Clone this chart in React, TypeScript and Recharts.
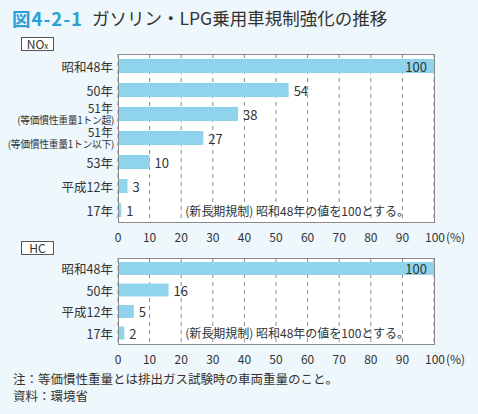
import React from "react";
import { BarChart, Bar, XAxis, YAxis, CartesianGrid, LabelList } from "recharts";

const noxCategories = [
  "昭和48年",
  "50年",
  "51年\n(等価慣性重量1トン超)",
  "51年\n(等価慣性重量1トン以下)",
  "53年",
  "平成12年",
  "17年",
];
const noxValues = [100, 54, 38, 27, 10, 3, 1];

const hcCategories = ["昭和48年", "50年", "平成12年", "17年"];
const hcValues = [100, 16, 5, 2];

const xTicks = [0, 10, 20, 30, 40, 50, 60, 70, 80, 90, 100];

const noxData = noxCategories.map((name, i) => ({ name, value: noxValues[i] }));
const hcData = hcCategories.map((name, i) => ({ name, value: hcValues[i] }));

const FONT = "'Noto Sans CJK JP', 'Noto Sans', sans-serif";
const TEXT = "#333333";
const BAR = "#8fd3ec";
const BG = "#eef7fb";

const XTick = (props: any) => {
  const { x, y, payload } = props;
  if (payload.value === 100) {
    return (
      <text x={x - 9} y={y + 18} textAnchor="start" fontSize={12} fill={TEXT} fontFamily={FONT}>
        100
        <tspan dx={1}>(%)</tspan>
      </text>
    );
  }
  return (
    <text x={x} y={y + 18} textAnchor="middle" fontSize={12} fill={TEXT} fontFamily={FONT}>
      {payload.value}
    </text>
  );
};

const YTick = (props: any) => {
  const { y, payload } = props;
  const x = 113;
  const lines = String(payload.value).split("\n");
  if (lines.length === 1) {
    return (
      <text x={x} y={y} textAnchor="end" dominantBaseline="central" fontSize={12.5} fill={TEXT} fontFamily={FONT}>
        {lines[0]}
      </text>
    );
  }
  return (
    <text textAnchor="end" fill={TEXT} fontFamily={FONT}>
      <tspan x={x} y={y - 1.5} fontSize={12}>
        {lines[0]}
      </tspan>
      <tspan x={x + 1} y={y + 10} fontSize={9.8} letterSpacing={-0.3}>
        {lines[1]}
      </tspan>
    </text>
  );
};

const ValueLabel = (props: any) => {
  const vb = props.viewBox || {};
  const x = props.x ?? vb.x;
  const y = props.y ?? vb.y;
  const width = props.width ?? vb.width;
  const height = props.height ?? vb.height;
  const value = props.value;
  const inside = value >= 100;
  return (
    <text
      x={inside ? x + width - 7 : x + width + 5}
      y={y + height / 2}
      textAnchor={inside ? "end" : "start"}
      dominantBaseline="central"
      fontSize={13}
      fill={TEXT}
      fontFamily={FONT}
    >
      {value}
    </text>
  );
};

type PanelProps = {
  data: { name: string; value: number }[];
  top: number;
  height: number;
  barSize: number;
  boxLabel: React.ReactNode;
  noteCenterY: number;
};

const PLOT_LEFT = 118;
const PLOT_RIGHT = 434;

const Panel = ({ data, top, height, barSize, boxLabel, noteCenterY }: PanelProps) => {
  const mTop = 28;
  const xAxisH = 28;
  const plotTop = top + mTop;
  const plotH = height - mTop - xAxisH;
  return (
    <>
      <div
        style={{
          position: "absolute",
          left: 21,
          top: top + 11,
          width: 33,
          height: 14,
          boxSizing: "border-box",
          border: "1px solid #555",
          background: "#fff",
          fontSize: 12,
          lineHeight: "12px",
          textAlign: "center",
          color: TEXT,
        }}
      >
        {boxLabel}
      </div>
      <div
        style={{
          position: "absolute",
          left: PLOT_LEFT,
          top: plotTop,
          width: PLOT_RIGHT - PLOT_LEFT,
          height: plotH,
          background: "#fff",
        }}
      />
      <div style={{ position: "absolute", left: 0, top }}>
        <BarChart
          width={478}
          height={height}
          data={data}
          layout="vertical"
          margin={{ top: mTop, right: 478 - PLOT_RIGHT, bottom: 0, left: 0 }}
          barCategoryGap={0}
        >
          <CartesianGrid horizontal={false} stroke="#8c8c8c" strokeDasharray="4 4" />
          <XAxis
            type="number"
            domain={[0, 100]}
            ticks={xTicks}
            interval={0}
            axisLine={false}
            tickLine={false}
            tickSize={0}
            height={xAxisH}
            tick={<XTick />}
          />
          <YAxis
            type="category"
            dataKey="name"
            width={PLOT_LEFT}
            axisLine={false}
            tickLine={false}
            tickSize={0}
            interval={0}
            tick={<YTick />}
          />
          <Bar dataKey="value" fill={BAR} barSize={barSize} isAnimationActive={false}>
            <LabelList dataKey="value" content={<ValueLabel />} />
          </Bar>
        </BarChart>
      </div>
      <div
        style={{
          position: "absolute",
          left: PLOT_LEFT,
          top: plotTop,
          width: PLOT_RIGHT - PLOT_LEFT + 1,
          height: plotH + 1,
          boxSizing: "border-box",
          border: "1px solid #8a8a8a",
          pointerEvents: "none",
        }}
      />
      <div
        style={{
          position: "absolute",
          left: 0,
          width: 409,
          top: noteCenterY - 8,
          height: 16,
          lineHeight: "16px",
          fontSize: 12,
          textAlign: "right",
          color: TEXT,
          whiteSpace: "nowrap",
        }}
      >
        (新長期規制)&nbsp;昭和48年の値を100とする。
      </div>
    </>
  );
};

export default function App() {
  return (
    <div
      style={{
        position: "absolute",
        left: 0,
        top: 0,
        width: 478,
        height: 414,
        background: BG,
        fontFamily: FONT,
        overflow: "hidden",
      }}
    >
      <div
        style={{
          position: "absolute",
          left: 12,
          top: 6,
          fontSize: 17.5,
          lineHeight: "24px",
          whiteSpace: "nowrap",
          color: TEXT,
        }}
      >
        <span style={{ color: "#2a9fd8", fontWeight: 700, fontSize: 18.5, letterSpacing: 1 }}>図4-2-1</span>
        <span style={{ position: "absolute", left: 80, top: 0 }}>ガソリン・LPG乗用車規制強化の推移</span>
      </div>

      <Panel
        data={noxData}
        top={26}
        height={224}
        barSize={14}
        boxLabel={
          <span>
            NO<span style={{ fontSize: 8 }}>x</span>
          </span>
        }
        noteCenterY={211}
      />
      <Panel data={hcData} top={230} height={142} barSize={13} boxLabel="HC" noteCenterY={333} />

      <div
        style={{
          position: "absolute",
          left: 13,
          top: 370,
          fontSize: 12.5,
          lineHeight: "17px",
          color: TEXT,
          whiteSpace: "nowrap",
        }}
      >
        <div>注：等価慣性重量とは排出ガス試験時の車両重量のこと。</div>
        <div>資料：環境省</div>
      </div>
    </div>
  );
}
